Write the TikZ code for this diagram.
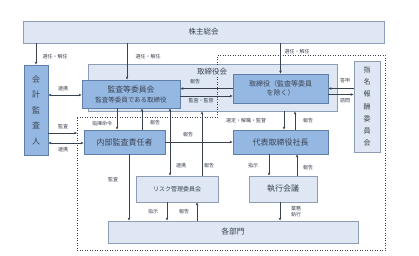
\documentclass[tikz,border=0pt]{standalone}
\usepackage{fontspec}
\setmainfont{Noto Sans CJK JP}
\usetikzlibrary{arrows.meta}
\definecolor{paleblue}{HTML}{DEE7F3}
\definecolor{midblue}{HTML}{95B8E3}
\definecolor{paleedge}{HTML}{8D9DB3}
\definecolor{midedge}{HTML}{5F7FAA}
\definecolor{inkgray}{HTML}{3A4250}
\tikzset{
  palebox/.style={draw=paleedge, fill=paleblue, line width=0.9pt, text=inkgray, inner sep=0pt, align=center},
  midbox/.style={draw=midedge, fill=midblue, line width=0.9pt, text=inkgray, inner sep=0pt, align=center},
  arr/.style={draw=inkgray, line width=0.5pt, -{Stealth[length=3pt,width=2.6pt]}},
  biarr/.style={draw=inkgray, line width=0.5pt, {Stealth[length=3pt,width=2.6pt]}-{Stealth[length=3pt,width=2.6pt]}},
  lbl/.style={font=\fontsize{5}{6}\selectfont, text=inkgray, inner sep=0pt}
}
\begin{document}
\begin{tikzpicture}[x=1pt, y=-1pt]
\useasboundingbox (0,0) rectangle (419,255);
% boxes
\node[palebox, minimum width=361pt, minimum height=22pt, font=\fontsize{7.5}{9}\selectfont] (sh) at (203.5,32) {株主総会};
\node[midbox, minimum width=24pt, minimum height=90pt, font=\fontsize{8}{15.5}\selectfont] (audit) at (36,110) {会\\計\\監\\査\\人};
\node[palebox, minimum width=249pt, minimum height=47pt] (board) at (212.5,87.5) {};
\node[midbox, minimum width=98pt, minimum height=28pt, font=\fontsize{7.8}{9}\selectfont] (ac) at (131,94)
  {監査等委員会\\[1pt]{\fontsize{6.5}{8}\selectfont 監査等委員である取締役}};
\node[midbox, minimum width=95pt, minimum height=29pt, font=\fontsize{7}{9}\selectfont] (dir) at (280.5,88.5) {取締役（監査等委員\\を除く）};
\node[palebox, minimum width=26pt, minimum height=91pt, font=\fontsize{7}{12.2}\selectfont] (nom) at (367,106.5) {指\\名\\報\\酬\\委\\員\\会};
\node[midbox, minimum width=81pt, minimum height=24pt, font=\fontsize{8}{9}\selectfont] (ia) at (124.5,142) {内部監査責任者};
\node[midbox, minimum width=95pt, minimum height=24pt, font=\fontsize{8}{9}\selectfont] (ceo) at (280.5,142) {代表取締役社長};
\node[palebox, minimum width=82pt, minimum height=26pt, font=\fontsize{6}{7}\selectfont] (risk) at (177,189) {リスク管理委員会};
\node[palebox, minimum width=68pt, minimum height=26pt, font=\fontsize{8}{9}\selectfont] (exec) at (283,189) {執行会議};
\node[palebox, minimum width=250pt, minimum height=22pt, font=\fontsize{7.7}{9}\selectfont] (dept) at (233,232) {各部門};
% dotted frame of the executing side
\coordinate (fl) at (77,117);
\draw[inkgray, dotted, line width=0.5pt] (fl) -- (217,117) -- (217,55) -- (385,55) -- (385,250) -- (77,250) -- cycle;
\node[font=\fontsize{7.5}{9}\selectfont, text=inkgray, fill=paleblue, inner sep=1.5pt] (boardname) at (212,72) {取締役会};
% shareholders
\draw[arr] (audit.north |- sh.south) -- (audit.north);
\draw[arr] ([xshift=-4pt]ac.north |- sh.south) -- ([xshift=-4pt]ac.north);
\draw[arr] (dir.north |- sh.south) -- (dir.north);
\node[lbl] (l1) at (55,57) {選任・解任};
\node[lbl] (l2) at (148,57) {選任・解任};
\node[lbl] (l3) at (297,52) {選任・解任};
% accounting auditor
\draw[biarr] ([yshift=15pt]audit.east) -- ([yshift=15pt]audit.east -| ac.west);
\draw[arr] ([yshift=-23pt]audit.east) -- ([yshift=-23pt]audit.east -| fl);
\draw[biarr] ([yshift=-33pt]audit.east) -- ([yshift=-33pt]audit.east -| ia.west);
\node[lbl] (l4) at (63,89) {連携};
\node[lbl] (l5) at (63,127) {監査};
\node[lbl] (l6) at (63,150) {連携};
% audit committee and directors
\draw[arr] (dir.west) -- (dir.west -| ac.east);
\draw[arr] ([yshift=-2pt]ac.east) -- ([yshift=-2pt]ac.east -| dir.west);
\node[lbl] (l7) at (195,82) {報告};
\node[lbl] (l8) at (201,101) {監査・監督};
\draw[arr] (nom.west |- dir.east) -- (dir.east);
\draw[arr] ([yshift=-6pt]dir.east) -- ([yshift=-6pt]dir.east -| nom.west);
\node[lbl] (l9) at (345,81) {答申};
\node[lbl] (l10) at (345,101) {諮問};
% internal audit
\draw[arr] ([xshift=-14pt]ac.south) -- ([xshift=-14pt]ac.south |- ia.north);
\draw[arr] ([xshift=17.5pt]ia.north) -- ([xshift=17.5pt]ia.north |- ac.south);
\draw[biarr] ([xshift=39pt]ac.south) -- ([xshift=39pt]ac.south |- risk.north);
\draw[arr] ([xshift=25pt]risk.north) -- ([xshift=25pt]risk.north |- board.south);
\draw[arr] (ia.east) -- (ceo.west);
\node[lbl] (l11) at (102,124) {指揮命令};
\node[lbl] (l12) at (155,123) {報告};
\node[lbl] (l13) at (181,166) {連携};
\node[lbl] (l14) at (209,166) {報告};
\node[lbl] (l15) at (188,135) {報告};
% president
\draw[arr] ([xshift=3.5pt]ceo.north |- board.south) -- ([xshift=3.5pt]ceo.north);
\draw[arr] ([xshift=14.5pt]ceo.north) -- ([xshift=14.5pt]ceo.north |- board.south);
\node[lbl] (l16) at (246,121) {選定・解職・監督};
\node[lbl] (l17) at (308,121) {報告};
\draw[arr] ([xshift=-14pt]exec.north |- ceo.south) -- ([xshift=-14pt]exec.north);
\draw[arr] ([xshift=14pt]exec.north) -- ([xshift=14pt]exec.north |- ceo.south);
\node[lbl] (l18) at (253,166) {指示};
\node[lbl] (l19) at (308,168) {報告};
% departments
\draw[arr] ([xshift=-3pt]exec.south) -- ([xshift=-3pt]exec.south |- dept.north);
\draw[arr] ([xshift=4.5pt]ia.south) -- ([xshift=4.5pt]ia.south |- dept.north);
\draw[arr] ([xshift=-10pt]risk.south) -- ([xshift=-10pt]risk.south |- dept.north);
\draw[arr] ([xshift=20pt]risk.south |- dept.north) -- ([xshift=20pt]risk.south);
\node[lbl, align=center] (l20) at (296,212) {業務\\執行};
\node[lbl] (l21) at (113,180) {監査};
\node[lbl] (l22) at (153,212) {指示};
\node[lbl] (l23) at (184,212) {報告};
\end{tikzpicture}
\end{document}
